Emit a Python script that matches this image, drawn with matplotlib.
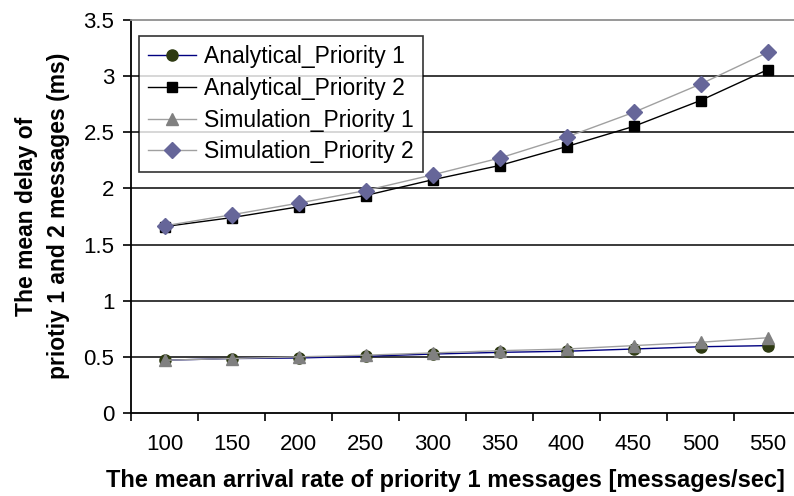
"""
两类优先级消息平均时延：解析结果与仿真结果对比
"""

import numpy as np
import matplotlib.pyplot as plt

plt.rcParams['font.family'] = ['Liberation Sans', 'DejaVu Sans']

# 1. 数据
rates = ['100', '150', '200', '250', '300', '350', '400', '450', '500', '550']
analytical_p1 = [0.47, 0.485, 0.49, 0.505, 0.525, 0.54, 0.55, 0.57, 0.59, 0.60]
analytical_p2 = [1.66, 1.74, 1.836, 1.937, 2.077, 2.204, 2.373, 2.552, 2.783, 3.057]
simulation_p1 = [0.47, 0.485, 0.50, 0.515, 0.535, 0.555, 0.57, 0.60, 0.63, 0.67]
simulation_p2 = [1.667, 1.765, 1.869, 1.981, 2.121, 2.27, 2.457, 2.677, 2.929, 3.211]
yticks = [0, 0.5, 1, 1.5, 2, 2.5, 3, 3.5]
ytick_labels = ['0', '0.5', '1', '1.5', '2', '2.5', '3', '3.5']

x = np.arange(len(rates))

# 2. 画图
fig = plt.figure(figsize=(7.94, 4.96), dpi=100)
ax = fig.add_axes([131 / 794, 83 / 496, 670 / 794, 393 / 496])

# 网格线
for v in yticks[1:-1]:
    ax.axhline(v, color='#2b2b2b', linewidth=1.3, zorder=1)

ax.plot(x, analytical_p1, color='#000080', linewidth=1.0, marker='o',
        markersize=8, markerfacecolor='#2e3a12', markeredgecolor='#2e3a12',
        label='Analytical_Priority 1', zorder=3)
ax.plot(x, analytical_p2, color='black', linewidth=1.0, marker='s',
        markersize=7.5, markerfacecolor='black', markeredgecolor='black',
        label='Analytical_Priority 2', zorder=3)
ax.plot(x, simulation_p1, color='#a0a0a0', linewidth=1.0, marker='^',
        markersize=8.5, markerfacecolor='#808080', markeredgecolor='#808080',
        label='Simulation_Priority 1', zorder=4)
ax.plot(x, simulation_p2, color='#a0a0a0', linewidth=1.0, marker='D',
        markersize=8, markerfacecolor='#666699', markeredgecolor='#666699',
        label='Simulation_Priority 2', zorder=4)

ax.set_xlim(-0.5, len(rates) - 0.5)
ax.set_ylim(0, 3.5)

# 类别轴：标签在类别中间，刻度线在类别分界处
ax.set_xticks(x)
ax.set_xticklabels(rates, fontsize=16)
ax.set_xticks(np.arange(-0.5, len(rates), 1), minor=True)
ax.tick_params(axis='x', which='major', length=0, pad=15, colors='black')
ax.tick_params(axis='x', which='minor', length=6, width=1.2, direction='out')

ax.set_yticks(yticks)
ax.set_yticklabels(ytick_labels, fontsize=16)
ax.tick_params(axis='y', length=6, width=1.2, direction='out', pad=6)

for side in ['left', 'bottom']:
    ax.spines[side].set_color('black')
    ax.spines[side].set_linewidth(1.3)
ax.spines['top'].set_color('#909090')
ax.spines['top'].set_linewidth(1.3)
ax.spines['right'].set_visible(False)

leg = ax.legend(loc='upper left', bbox_to_anchor=(8 / 670, 1 - 16 / 393),
                fontsize=16.5, frameon=True, fancybox=False, borderpad=0.4,
                labelspacing=0.38, handlelength=2.1, handletextpad=0.35,
                borderaxespad=0)
leg.get_frame().set_edgecolor('black')
leg.get_frame().set_linewidth(1.2)

fig.text(445 / 794, 1 - 480 / 496,
         'The mean arrival rate of priority 1 messages [messages/sec]',
         fontsize=17, fontweight='bold', ha='center', va='center')
fig.text(43 / 794, 1 - 216 / 496,
         'The mean delay of\npriotiy 1 and 2 messages (ms)',
         fontsize=16.5, fontweight='bold', ha='center', va='center',
         rotation=90, linespacing=1.5)

plt.savefig('out.png', dpi=100)
